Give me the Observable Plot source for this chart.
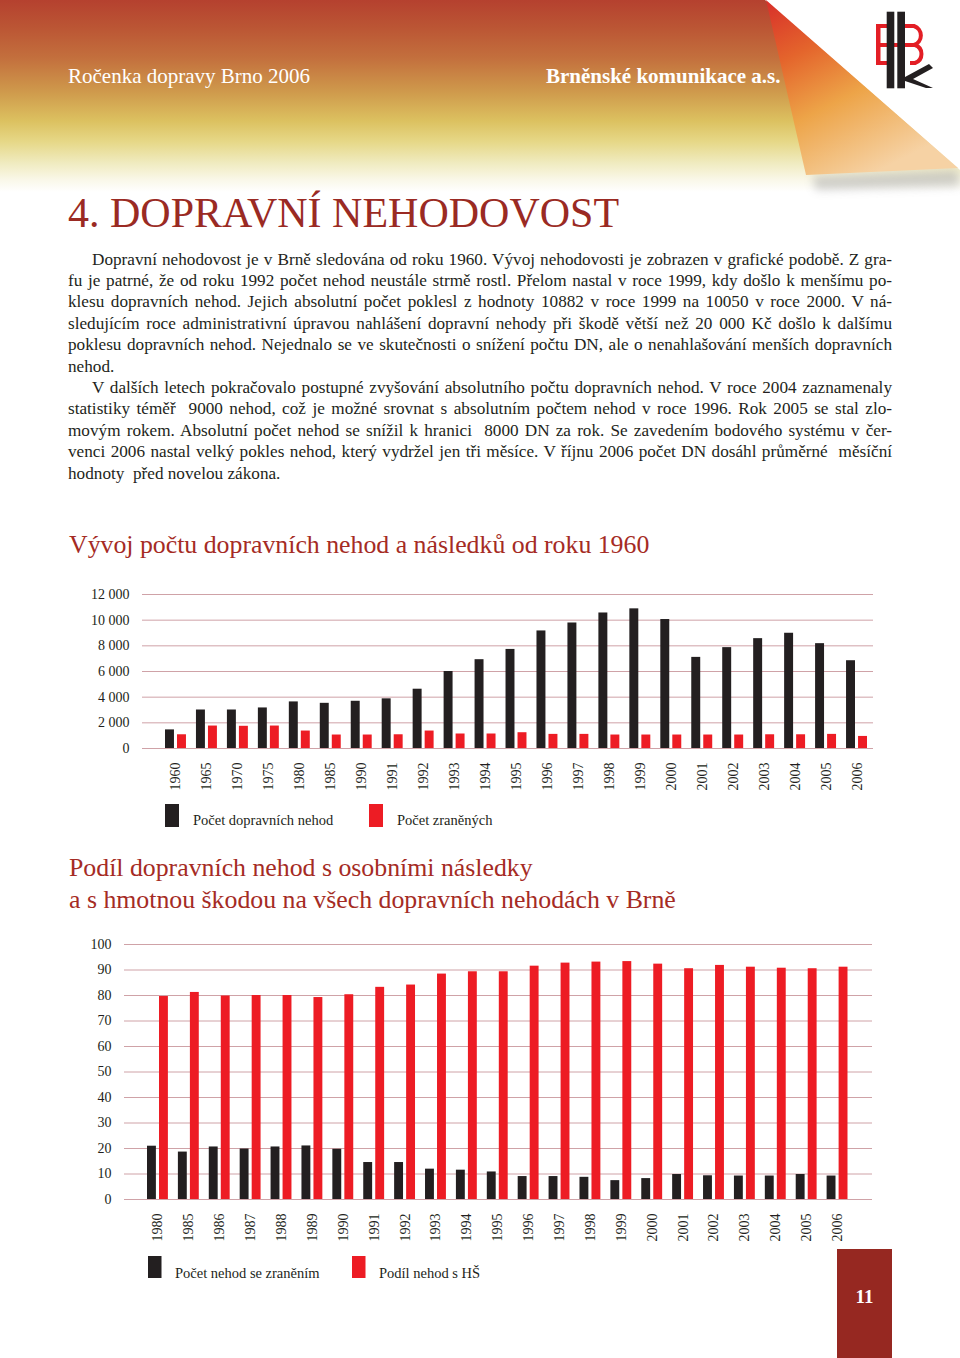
<!DOCTYPE html>
<html><head><meta charset="utf-8">
<script src="https://cdn.jsdelivr.net/npm/d3@7"></script>
<script src="https://cdn.jsdelivr.net/npm/@observablehq/plot@0.6"></script>
<style>
html,body{margin:0;padding:0;background:#fff;}
#page{position:relative;width:960px;height:1358px;overflow:hidden;font-family:"Liberation Serif","Times New Roman",serif;color:#231f20;}
#hdr{position:absolute;left:0;top:0;width:960px;height:192px;
 background:linear-gradient(to bottom,#b5412f 0%,#bb5534 14%,#c36f3d 30%,#cf9a4c 48%,#dcc160 63%,#e6d888 74%,#f0ebc0 85%,#faf8ea 94%,#ffffff 100%);}
#overlay{position:absolute;left:0;top:0;}
#body{position:absolute;left:68px;top:248.5px;width:824px;font-size:17.2px;line-height:21.4px;color:#231f20;}
#body div{text-align:justify;text-align-last:justify;white-space:nowrap;}
#body div.last{text-align-last:left;}
#body div.ind{padding-left:24px;}
#c1{position:absolute;left:0;top:580px;}
#c2{position:absolute;left:0;top:930px;}
#pn{position:absolute;left:837px;top:1249px;width:55px;height:109px;background:#962821;}
</style></head><body><div id="page">
<div id="hdr"></div>
<svg id="overlay" width="960" height="1358" xmlns="http://www.w3.org/2000/svg" font-family="Liberation Serif, Times New Roman, serif">
 <defs>
  <linearGradient id="flap" gradientUnits="userSpaceOnUse" x1="770" y1="0" x2="860" y2="180">
   <stop offset="0" stop-color="#d8302a"/>
   <stop offset="0.3" stop-color="#e4652c"/>
   <stop offset="0.6" stop-color="#eda448"/>
   <stop offset="1" stop-color="#f6d2a4"/>
  </linearGradient>
  <filter id="blur" x="-20%" y="-50%" width="140%" height="200%"><feGaussianBlur stdDeviation="5"/></filter>
 </defs>
 <polygon points="812,176 958,170 960,186 816,190" fill="#9a9a9a" opacity="0.45" filter="url(#blur)"/>
 <polygon points="765,0 960,0 960,170" fill="#ffffff"/>
 <polygon points="766,0 806,175 958,168" fill="url(#flap)"/>
 <g>
  <rect x="876" y="24" width="4.5" height="41" fill="#e31e25"/>
  <rect x="876" y="24" width="11" height="4" fill="#e31e25"/>
  <rect x="876" y="61" width="11" height="4" fill="#e31e25"/>
  <rect x="880" y="43" width="30" height="4" fill="#e31e25"/>
  <path d="M905,26 H914 A10,10 0 0 1 914,45 H905" fill="none" stroke="#e31e25" stroke-width="4"/>
  <path d="M905,45 H915 A9.5,9.5 0 0 1 915,63 H910" fill="none" stroke="#e31e25" stroke-width="4"/>
  <rect x="886.7" y="11.7" width="7.6" height="76.6" fill="#231f20"/>
  <rect x="897.3" y="11.7" width="7.7" height="76.6" fill="#231f20"/>
  <path d="M905,77 L929,64 L933,68 L913,79 L933,88 L926,88 L905,81 Z" fill="#231f20"/>
 </g>
 <text x="68" y="83" font-size="21" fill="#ffffff">Ročenka dopravy Brno 2006</text>
 <text x="546" y="83" font-size="21" font-weight="bold" fill="#ffffff">Brněnské komunikace a.s.</text>
 <text x="68" y="227" font-size="42" fill="#9a2a23">4. DOPRAVNÍ NEHODOVOST</text>
 <text x="69" y="553" font-size="25.8" fill="#a52b24">Vývoj počtu dopravních nehod a následků od roku 1960</text>
 <text x="69" y="876" font-size="25.8" fill="#a52b24">Podíl dopravních nehod s osobními následky</text>
 <text x="69" y="908" font-size="25.8" fill="#a52b24">a s hmotnou škodou na všech dopravních nehodách v Brně</text>
 <rect x="165" y="804" width="14" height="23" fill="#231f20"/>
 <text x="193" y="825" font-size="14.5" fill="#231f20">Počet dopravních nehod</text>
 <rect x="369" y="804" width="14" height="23" fill="#ed1c24"/>
 <text x="397" y="825" font-size="14.5" fill="#231f20">Počet zraněných</text>
 <rect x="148" y="1256" width="13.5" height="22" fill="#231f20"/>
 <text x="175" y="1278" font-size="14.5" fill="#231f20">Počet nehod se zraněním</text>
 <rect x="352" y="1256" width="13.5" height="22" fill="#ed1c24"/>
 <text x="379" y="1278" font-size="14.5" fill="#231f20">Podíl nehod s HŠ</text>
</svg>
<div id="body">
<div class="ind">Dopravní nehodovost je v Brně sledována od roku 1960. Vývoj nehodovosti je zobrazen v grafické podobě. Z gra-</div>
<div>fu je patrné, že od roku 1992 počet nehod neustále strmě rostl. Přelom nastal v roce 1999, kdy došlo k menšímu po-</div>
<div>klesu dopravních nehod. Jejich absolutní počet poklesl z hodnoty 10882 v roce 1999 na 10050 v roce 2000. V ná-</div>
<div>sledujícím roce administrativní úpravou nahlášení dopravní nehody při škodě větší než 20 000 Kč došlo k dalšímu</div>
<div>poklesu dopravních nehod. Nejednalo se ve skutečnosti o snížení počtu DN, ale o nenahlašování menších dopravních</div>
<div class="last">nehod.</div>
<div class="ind">V dalších letech pokračovalo postupné zvyšování absolutního počtu dopravních nehod. V roce 2004 zaznamenaly</div>
<div>statistiky téměř &nbsp;9000 nehod, což je možné srovnat s absolutním počtem nehod v roce 1996. Rok 2005 se stal zlo-</div>
<div>movým rokem. Absolutní počet nehod se snížil k hranici &nbsp;8000 DN za rok. Se zavedením bodového systému v čer-</div>
<div>venci 2006 nastal velký pokles nehod, který vydržel jen tři měsíce. V říjnu 2006 počet DN dosáhl průměrné &nbsp;měsíční</div>
<div class="last">hodnoty &nbsp;před novelou zákona.</div>
</div>
<div id="c1"></div>
<div id="c2"></div>
<div id="pn"><svg width="55" height="109"><text x="27.5" y="54" text-anchor="middle" font-family="Liberation Serif, serif" font-weight="bold" font-size="19" fill="#ffffff">11</text></svg></div>
</div>
<script>
// Chart 1: Vývoj počtu dopravních nehod a následků od roku 1960
const years1 = ["1960","1965","1970","1975","1980","1985","1990","1991","1992","1993","1994","1995","1996","1997","1998","1999","2000","2001","2002","2003","2004","2005","2006"];
const accidents1 = [1450,3000,3000,3160,3630,3520,3680,3870,4620,6000,6920,7720,9160,9780,10560,10882,10050,7100,7860,8560,8980,8170,6840];
const injured1 = [1070,1750,1730,1750,1360,1050,1050,1070,1360,1130,1130,1230,1100,1100,1050,1050,1050,1050,1050,1070,1070,1100,940];
const yTicks1 = [0,2000,4000,6000,8000,10000,12000];
const yTickLabels1 = ["0","2 000","4 000","6 000","8 000","10 000","12 000"];

// Chart 2: Podíl dopravních nehod s osobními následky a s hmotnou škodou (%)
const years2 = ["1980","1985","1986","1987","1988","1989","1990","1991","1992","1993","1994","1995","1996","1997","1998","1999","2000","2001","2002","2003","2004","2005","2006"];
const injuryShare2 = [20.9,18.6,20.6,19.8,20.6,21.0,19.7,14.5,14.5,11.9,11.5,10.8,9.0,9.0,8.7,7.4,8.2,9.8,9.3,9.2,9.2,9.8,9.2];
const damageShare2 = [79.6,81.2,79.8,80.0,80.0,79.2,80.3,83.2,84.1,88.4,89.3,89.3,91.5,92.7,93.1,93.3,92.3,90.5,91.8,91.1,90.7,90.5,91.1];
const yTicks2 = [0,10,20,30,40,50,60,70,80,90,100];
const yTickLabels2 = ["0","10","20","30","40","50","60","70","80","90","100"];

const BLACK = "#231f20", RED = "#ed1c24", GRID = "#cfa2a7";

function groupedBars(o) {
  const rows = o.years.map((y, i) => ({year: y, a: o.a[i], b: o.b[i]}));
  return Plot.plot({
    width: 960, height: o.height,
    marginTop: o.marginTop, marginBottom: o.marginBottom,
    marginLeft: o.marginLeft, marginRight: o.marginRight,
    style: {fontFamily: "Liberation Serif, Times New Roman, serif", fontSize: "14px", color: BLACK, background: "transparent", overflow: "visible"},
    x: {domain: o.years, padding: 0, round: false, insetLeft: o.insetLeft, insetRight: o.insetRight, label: null},
    y: {domain: o.yDomain, label: null},
    marks: [
      Plot.ruleY(o.ticks, {stroke: GRID, strokeWidth: 1}),
      Plot.barY(rows, {x: "year", y: "a", fill: BLACK, insetLeft: 5, insetRight: 17}),
      Plot.barY(rows, {x: "year", y: "b", fill: RED, insetLeft: 17, insetRight: 5}),
      Plot.axisX({tickRotate: -90, tickSize: 0, tickPadding: 14, fontSize: 14, label: null}),
      Plot.axisY({ticks: o.ticks, tickFormat: d => o.labels[o.ticks.indexOf(d)], tickSize: 0, tickPadding: 13, fontSize: 14, label: null})
    ]
  });
}

document.getElementById("c1").appendChild(groupedBars({
  years: years1, a: accidents1, b: injured1, yDomain: [0, 12000], ticks: yTicks1, labels: yTickLabels1,
  height: 220, marginTop: 14, marginBottom: 52, marginLeft: 142, marginRight: 87, insetLeft: 18, insetRight: 1
}));
document.getElementById("c2").appendChild(groupedBars({
  years: years2, a: injuryShare2, b: damageShare2, yDomain: [0, 100], ticks: yTicks2, labels: yTickLabels2,
  height: 320, marginTop: 14, marginBottom: 51, marginLeft: 124, marginRight: 88, insetLeft: 18, insetRight: 19.5
}));
</script>
</body></html>
